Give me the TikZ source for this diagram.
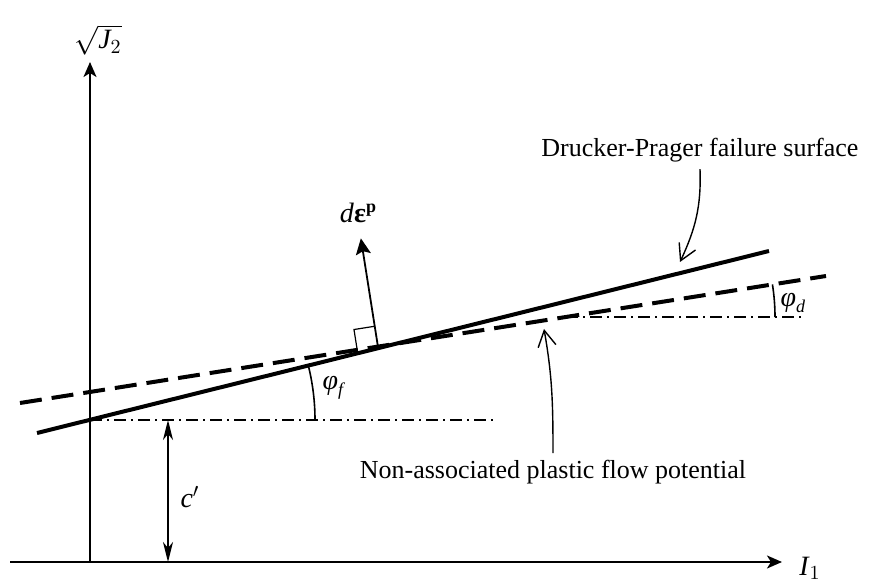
\documentclass[tikz,border=0pt]{standalone}
\usepackage{amsmath}
\usepackage{fontspec}
\setmainfont{Liberation Serif}
\usetikzlibrary{arrows.meta,calc}
\tikzset{
  axis/.style={-{Stealth[length=7.5pt,width=6.5pt,inset=2pt]},line width=0.9pt},
  failline/.style={line width=2pt},
  flowline/.style={line width=2pt,dash pattern=on 11pt off 5pt},
  refline/.style={line width=0.7pt,dash pattern=on 6pt off 2.5pt on 1pt off 2.5pt},
  anglearc/.style={line width=0.8pt},
  annot/.style={-{Straight Barb[length=8pt,width=9pt]},line width=0.7pt},
  dimarrow/.style={{Stealth[length=10pt,width=5pt,inset=3pt]}-{Stealth[length=10pt,width=5pt,inset=3pt]},line width=0.9pt},
  normarrow/.style={-{Stealth[length=8pt,width=7.5pt,inset=1.5pt]},line width=0.9pt},
  symb/.style={font=\fontsize{14}{16}\selectfont}
}

\begin{document}
\begin{tikzpicture}[x=0.5pt,y=0.5pt,font=\fontsize{13}{15}\selectfont]
    \useasboundingbox (0,0) rectangle (869,585);
    % axes
    \coordinate (O) at (90,23);
    \coordinate (xs) at (10,23); \coordinate (xe) at (782,23);
    \coordinate (ye) at (90,523);
    \draw[axis] (xs) -- (xe);
    \draw[axis] (O) -- (ye);
    \node[symb] (I1) at (810,17) {\textit{I}$_1$};
    \node[symb] (J2) at (98,545) {$\sqrt{\textit{J}_2}$};
    % failure surface and flow potential
    \coordinate (fa) at (37,152); \coordinate (fb) at (769,334);
    \coordinate (ga) at (20,182); \coordinate (gb) at (826,309);
    \draw[failline] (fa) -- (fb);
    \draw[flowline] (ga) -- (gb);
    % friction angle
    \coordinate (C) at (90,165); \coordinate (Cr) at (497,165);
    \draw[refline] (C) -- (Cr);
    \draw[anglearc] ($(C)+(225,0)$) arc[start angle=0,end angle=13.96,radius=112.5pt];
    \node[symb] (phif) at (334,197) {\textit{φ}\raisebox{-3pt}{\textit{\small f}}};
    % dilatancy angle
    \coordinate (D) at (566,268); \coordinate (Dr) at (802,268);
    \draw[refline] (D) -- (Dr);
    \draw[anglearc] ($(D)+(209,0)$) arc[start angle=0,end angle=8.96,radius=104.5pt];
    \node[symb] (phid) at (793,282) {\textit{φ}\raisebox{-3pt}{\textit{\small d}}};
    % cohesion
    \coordinate (ct) at (168,165); \coordinate (cb) at (168,23);
    \draw[dimarrow] (ct) -- (cb);
    \node[symb] (coh) at (190,88) {\textit{c}$'$};
    % plastic strain increment
    \coordinate (F) at (378,238);
    \coordinate (Ft) at ($(F)+(98.96:110)$);
    \draw[normarrow] (F) -- (Ft);
    \draw[line width=0.6pt] ($(F)+(188.96:21)$) -- ($(F)+(188.96:21)+(98.96:21)$) -- ($(F)+(98.96:21)$);
    \node[symb] (deps) at (358,372) {\textit{d}\textbf{ε}\raisebox{5pt}{\textbf{\small p}}};
    % labels
    \node (DP) at (700,435) {Drucker-Prager failure surface};
    \coordinate (DPend) at (680,323);
    \draw[annot] (DP.south) to[out=-88,in=65] (DPend);
    \node (NA) at (553,113) {Non-associated plastic flow potential};
    \coordinate (NAend) at (544,256);
    \draw[annot] (NA.north) to[out=90,in=-80] (NAend);
\end{tikzpicture}
\end{document}
